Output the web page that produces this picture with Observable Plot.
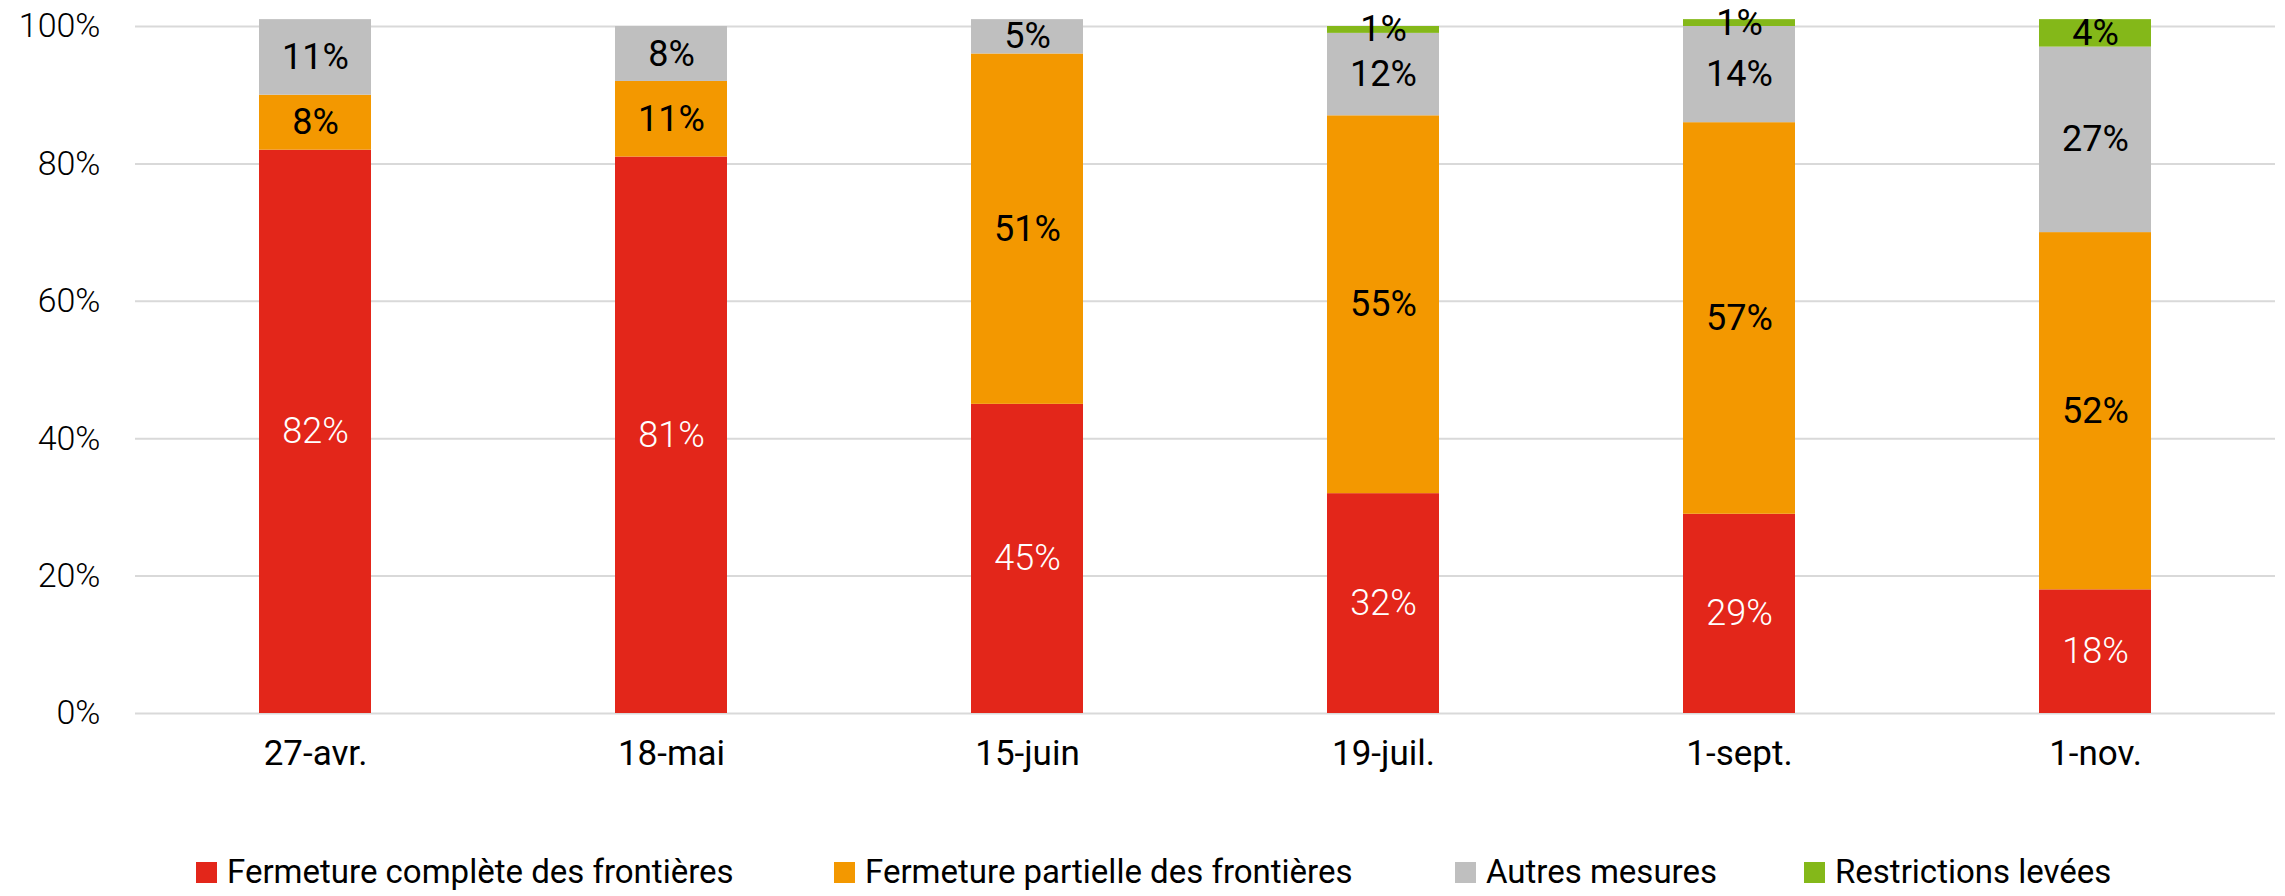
<!DOCTYPE html>
<html>
<head>
<meta charset="utf-8">
<script src="https://cdn.jsdelivr.net/npm/d3@7"></script>
<script src="https://cdn.jsdelivr.net/npm/@observablehq/plot@0.6"></script>
<style>
  html, body { margin: 0; padding: 0; background: #fff; }
  body { width: 2285px; height: 896px; overflow: hidden; font-family: Roboto, "Noto Sans", sans-serif; }
  #chart { position: absolute; left: 0; top: 0; }
  .legend { position: absolute; left: 0; top: 852px; width: 2285px; height: 40px; }
  .item { position: absolute; top: 0; display: flex; align-items: center; height: 40px; font-size: 33px; line-height: 40px; color: #000; white-space: nowrap; }
  .sw { width: 21px; height: 21px; margin-right: 10px; flex: none; }
</style>
</head>
<body>
<div id="chart"></div>
<div class="legend" id="legend"></div>
<script>
const dates = ["27-avr.", "18-mai", "15-juin", "19-juil.", "1-sept.", "1-nov."];
const categories = ["Fermeture complète des frontières", "Fermeture partielle des frontières", "Autres mesures", "Restrictions levées"];
const colors = ["#E3261A", "#F39800", "#BFBFBF", "#84B819"];
const complete = [82, 81, 45, 32, 29, 18];
const partielle = [8, 11, 51, 55, 57, 52];
const autres = [11, 8, 5, 12, 14, 27];
const levees = [0, 0, 0, 1, 1, 4];
const yTicks = [0, 20, 40, 60, 80, 100];
const legendLeft = [196, 834, 1455, 1804];

const series = [complete, partielle, autres, levees];
const data = [];
dates.forEach((d, i) => {
  categories.forEach((c, j) => {
    data.push({date: d, cat: c, value: series[j][i]});
  });
});
const labelled = data.filter(r => r.value > 0);

const plot = Plot.plot({
  width: 2285,
  height: 793,
  marginLeft: 135,
  marginRight: 10,
  marginTop: 26,
  marginBottom: 80,
  style: {fontFamily: "Roboto, 'Noto Sans', sans-serif", background: "#fff", color: "#000"},
  x: {domain: dates, paddingInner: 0.686, paddingOuter: 0.343, label: null},
  y: {domain: [0, 100], label: null},
  color: {domain: categories, range: colors},
  marks: [
    Plot.ruleY(yTicks, {stroke: "#D9D9D9", strokeWidth: 2}),
    Plot.barY(data, {x: "date", y: "value", fill: "cat", order: categories}),
    Plot.text(labelled.filter(r => r.cat === categories[0]), Plot.stackY({
      x: "date", y: "value", z: "cat", order: categories,
      text: r => r.value + "%", fill: "#fff", fontSize: 36, fontWeight: 300
    })),
    Plot.text(labelled, Plot.stackY({
      x: "date", y: "value", z: "cat", order: categories,
      text: r => r.cat === categories[0] ? "" : r.value + "%", fill: "#000", fontSize: 36
    })),
    Plot.axisY(yTicks, {tickSize: 0, tickPadding: 35, tickFormat: d => d + "%", fontSize: 34, fontWeight: 300, label: null}),
    Plot.axisX({tickSize: 0, tickPadding: 27, fontSize: 35, label: null})
  ]
});
document.getElementById("chart").appendChild(plot);

const leg = document.getElementById("legend");
categories.forEach((c, i) => {
  const it = document.createElement("div");
  it.className = "item";
  it.style.left = legendLeft[i] + "px";
  const sw = document.createElement("span");
  sw.className = "sw";
  sw.style.background = colors[i];
  const t = document.createElement("span");
  t.textContent = c;
  it.appendChild(sw);
  it.appendChild(t);
  leg.appendChild(it);
});
</script>
</body>
</html>
